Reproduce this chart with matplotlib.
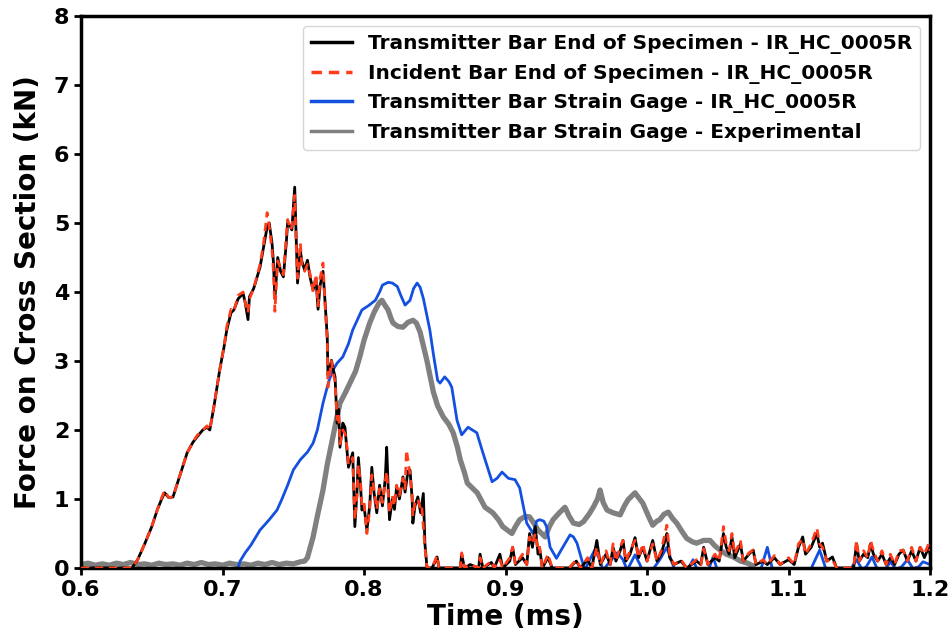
import numpy as np
import matplotlib
matplotlib.use("Agg")
import matplotlib.pyplot as plt

# Transmitter bar end of specimen (simulation) : (time ms, force kN)
trans_end = [
    (0.600, 0.0), (0.636, 0.0), (0.640, 0.12), (0.645, 0.35), (0.650, 0.6), (0.654, 0.85),
    (0.657, 1.0), (0.659, 1.09), (0.662, 1.02), (0.665, 1.03), (0.670, 1.35), (0.675, 1.67),
    (0.679, 1.82), (0.682, 1.9), (0.686, 2.0), (0.689, 2.04), (0.691, 2.0), (0.694, 2.35),
    (0.698, 2.87), (0.701, 3.2), (0.703, 3.45), (0.706, 3.7), (0.708, 3.74), (0.711, 3.9),
    (0.7145, 3.98), (0.716, 3.85), (0.718, 3.6), (0.719, 3.93), (0.722, 4.05), (0.7265, 4.36),
    (0.729, 4.65), (0.7315, 4.94), (0.733, 5.0), (0.735, 4.7), (0.736, 4.42), (0.737, 3.9),
    (0.738, 4.2), (0.739, 4.5), (0.741, 4.3), (0.743, 4.22), (0.745, 4.7), (0.746, 5.0),
    (0.748, 4.95), (0.749, 4.9), (0.751, 5.52), (0.752, 4.8), (0.753, 4.13), (0.755, 4.6),
    (0.756, 4.45), (0.758, 4.32), (0.760, 4.46), (0.762, 4.2), (0.764, 4.03), (0.766, 4.2),
    (0.7675, 3.75), (0.769, 4.1), (0.771, 4.3), (0.7725, 3.84), (0.774, 3.35), (0.7745, 2.8),
    (0.776, 2.9), (0.777, 3.01), (0.778, 2.9), (0.7795, 2.77), (0.781, 2.1), (0.782, 2.3),
    (0.783, 1.75), (0.785, 2.1), (0.7865, 2.04), (0.788, 1.7), (0.789, 1.46), (0.791, 1.6),
    (0.792, 1.67), (0.7935, 0.6), (0.795, 1.1), (0.796, 1.6), (0.7975, 1.2), (0.7985, 0.84),
    (0.800, 0.9), (0.802, 0.55), (0.804, 0.9), (0.8055, 1.46), (0.807, 1.1), (0.809, 0.8),
    (0.811, 1.2), (0.813, 0.9), (0.815, 1.3), (0.816, 1.75), (0.817, 1.2), (0.818, 0.7),
    (0.820, 1.0), (0.8215, 0.85), (0.823, 1.17), (0.825, 1.0), (0.8275, 1.32), (0.829, 1.1),
    (0.831, 1.4), (0.8325, 1.42), (0.834, 1.0), (0.8345, 0.65), (0.836, 0.9), (0.838, 1.03),
    (0.840, 0.8), (0.8419, 1.08), (0.843, 0.36), (0.8445, 0.0),
    (0.848, 0.0), (0.850, 0.08), (0.8516, 0.16), (0.853, 0.0), (0.868, 0.0), (0.869, 0.2),
    (0.871, 0.0), (0.875, 0.05), (0.881, 0.0), (0.882, 0.2), (0.884, 0.0), (0.890, 0.08),
    (0.892, 0.0), (0.896, 0.2), (0.898, 0.0), (0.903, 0.1), (0.905, 0.3), (0.907, 0.05),
    (0.912, 0.15), (0.915, 0.05), (0.917, 0.5), (0.919, 0.3), (0.921, 0.6), (0.923, 0.2),
    (0.924, 0.3), (0.926, 0.0), (0.930, 0.15), (0.933, 0.0), (0.945, 0.0), (0.950, 0.1),
    (0.953, 0.0), (0.958, 0.12), (0.961, 0.0), (0.9645, 0.4), (0.967, 0.05), (0.971, 0.2),
    (0.974, 0.05), (0.976, 0.3), (0.978, 0.1), (0.981, 0.25), (0.983, 0.4), (0.985, 0.1),
    (0.988, 0.2), (0.9915, 0.44), (0.994, 0.15), (0.997, 0.3), (1.000, 0.1), (1.004, 0.4),
    (1.007, 0.1), (1.010, 0.2), (1.014, 0.5), (1.016, 0.15), (1.019, 0.05), (1.024, 0.1),
    (1.028, 0.0), (1.035, 0.1), (1.038, 0.05), (1.040, 0.3), (1.043, 0.05), (1.048, 0.15),
    (1.051, 0.1), (1.054, 0.5), (1.056, 0.3), (1.058, 0.2), (1.060, 0.45), (1.062, 0.15),
    (1.066, 0.35), (1.068, 0.1), (1.072, 0.2), (1.075, 0.26), (1.077, 0.05), (1.082, 0.1),
    (1.085, 0.05), (1.090, 0.15), (1.094, 0.05), (1.100, 0.12), (1.104, 0.05), (1.107, 0.3),
    (1.110, 0.45), (1.112, 0.2), (1.116, 0.3), (1.120, 0.5), (1.122, 0.3), (1.124, 0.36),
    (1.127, 0.1), (1.131, 0.16), (1.134, 0.0), (1.146, 0.0), (1.148, 0.35), (1.150, 0.1),
    (1.153, 0.2), (1.156, 0.15), (1.158, 0.35), (1.160, 0.2), (1.163, 0.1), (1.166, 0.2),
    (1.169, 0.05), (1.172, 0.15), (1.175, 0.05), (1.178, 0.2), (1.181, 0.26), (1.184, 0.1),
    (1.187, 0.25), (1.190, 0.1), (1.193, 0.3), (1.196, 0.15), (1.199, 0.3), (1.200, 0.2),
]

# Incident bar end of specimen (simulation)
inc_end = [
    (0.600, 0.0), (0.636, 0.0), (0.640, 0.12), (0.645, 0.35), (0.650, 0.6), (0.654, 0.85),
    (0.657, 1.02), (0.659, 1.12), (0.662, 1.02), (0.665, 1.03), (0.670, 1.35), (0.675, 1.67),
    (0.679, 1.82), (0.682, 1.92), (0.686, 2.0), (0.689, 2.06), (0.691, 2.0), (0.694, 2.35),
    (0.698, 2.87), (0.701, 3.2), (0.703, 3.5), (0.706, 3.75), (0.708, 3.72), (0.711, 3.95),
    (0.7145, 4.0), (0.716, 3.85), (0.718, 3.7), (0.719, 3.9), (0.722, 4.05), (0.7265, 4.4),
    (0.729, 4.7), (0.7315, 5.15), (0.733, 4.95), (0.735, 4.6), (0.736, 4.3), (0.737, 3.72),
    (0.738, 4.1), (0.739, 4.45), (0.741, 4.35), (0.743, 4.25), (0.745, 4.8), (0.746, 5.05),
    (0.748, 4.9), (0.749, 4.95), (0.751, 5.4), (0.752, 4.7), (0.753, 4.2), (0.755, 4.71),
    (0.756, 4.4), (0.758, 4.3), (0.760, 4.4), (0.762, 4.25), (0.764, 4.0), (0.766, 4.25),
    (0.7675, 3.8), (0.769, 4.2), (0.771, 4.42), (0.7725, 3.8), (0.774, 3.3), (0.7745, 2.62),
    (0.776, 2.85), (0.777, 3.0), (0.778, 2.85), (0.7795, 2.7), (0.781, 2.15), (0.782, 2.25),
    (0.783, 1.8), (0.785, 2.0), (0.7865, 1.95), (0.788, 1.75), (0.789, 1.5), (0.791, 1.55),
    (0.792, 1.6), (0.7935, 0.7), (0.795, 1.05), (0.796, 1.5), (0.7975, 1.25), (0.7985, 0.9),
    (0.800, 0.95), (0.802, 0.5), (0.804, 0.85), (0.8055, 1.35), (0.807, 1.15), (0.809, 0.85),
    (0.811, 1.15), (0.813, 0.95), (0.815, 1.25), (0.816, 1.4), (0.817, 1.1), (0.818, 0.8),
    (0.820, 1.05), (0.8215, 0.9), (0.823, 1.2), (0.825, 1.05), (0.8275, 1.3), (0.829, 1.15),
    (0.830, 1.71), (0.8325, 1.35), (0.834, 1.05), (0.8345, 0.75), (0.836, 0.95), (0.838, 1.0),
    (0.840, 0.85), (0.8408, 0.89), (0.843, 0.3), (0.8445, 0.0),
    (0.848, 0.0), (0.850, 0.1), (0.8516, 0.18), (0.853, 0.0), (0.868, 0.0), (0.869, 0.22),
    (0.871, 0.0), (0.875, 0.05), (0.881, 0.0), (0.882, 0.15), (0.884, 0.0), (0.890, 0.1),
    (0.892, 0.0), (0.896, 0.12), (0.898, 0.0), (0.903, 0.15), (0.905, 0.3), (0.907, 0.05),
    (0.912, 0.2), (0.915, 0.05), (0.917, 0.45), (0.919, 0.35), (0.921, 0.5), (0.923, 0.25),
    (0.924, 0.3), (0.926, 0.0), (0.930, 0.2), (0.933, 0.0), (0.945, 0.0), (0.950, 0.12),
    (0.953, 0.0), (0.958, 0.15), (0.961, 0.0), (0.9645, 0.3), (0.967, 0.05), (0.971, 0.25),
    (0.974, 0.05), (0.976, 0.35), (0.978, 0.1), (0.981, 0.3), (0.983, 0.4), (0.985, 0.1),
    (0.988, 0.25), (0.9915, 0.4), (0.994, 0.15), (0.997, 0.35), (1.000, 0.1), (1.004, 0.35),
    (1.007, 0.1), (1.010, 0.25), (1.014, 0.62), (1.016, 0.2), (1.019, 0.05), (1.024, 0.12),
    (1.028, 0.0), (1.035, 0.12), (1.038, 0.05), (1.040, 0.28), (1.043, 0.05), (1.048, 0.2),
    (1.051, 0.1), (1.054, 0.6), (1.056, 0.35), (1.058, 0.25), (1.060, 0.5), (1.062, 0.2),
    (1.066, 0.4), (1.068, 0.1), (1.072, 0.22), (1.075, 0.26), (1.077, 0.05), (1.082, 0.12),
    (1.085, 0.05), (1.090, 0.18), (1.094, 0.05), (1.100, 0.15), (1.104, 0.05), (1.107, 0.35),
    (1.110, 0.42), (1.112, 0.2), (1.116, 0.35), (1.120, 0.58), (1.122, 0.35), (1.124, 0.3),
    (1.127, 0.1), (1.131, 0.12), (1.134, 0.0), (1.146, 0.0), (1.148, 0.4), (1.150, 0.1),
    (1.153, 0.25), (1.156, 0.15), (1.158, 0.4), (1.160, 0.25), (1.163, 0.1), (1.166, 0.25),
    (1.169, 0.05), (1.172, 0.2), (1.175, 0.05), (1.178, 0.25), (1.181, 0.26), (1.184, 0.1),
    (1.187, 0.3), (1.190, 0.1), (1.193, 0.3), (1.196, 0.2), (1.199, 0.35), (1.200, 0.25),
]

# Transmitter bar strain gage (simulation)
trans_gage_sim = [
    (0.600, -0.05), (0.710, -0.05), (0.7124, 0.1), (0.716, 0.22), (0.720, 0.33), (0.7265, 0.55),
    (0.733, 0.7), (0.7385, 0.84), (0.742, 1.0), (0.746, 1.2), (0.750, 1.42), (0.755, 1.57),
    (0.760, 1.68), (0.764, 1.81), (0.767, 2.0), (0.771, 2.39), (0.775, 2.7), (0.778, 2.87),
    (0.781, 2.97), (0.785, 3.06), (0.789, 3.25), (0.792, 3.45), (0.7985, 3.74), (0.803, 3.8),
    (0.808, 3.88), (0.811, 4.0), (0.813, 4.10), (0.817, 4.14), (0.820, 4.13), (0.8235, 4.08),
    (0.826, 3.95), (0.829, 3.81), (0.8325, 3.88), (0.835, 4.05), (0.8375, 4.13), (0.8396, 4.07),
    (0.842, 3.9), (0.8465, 3.45), (0.849, 3.1), (0.852, 2.72), (0.8537, 2.68), (0.857, 2.77),
    (0.860, 2.7), (0.862, 2.62), (0.8657, 2.14), (0.869, 1.93), (0.8735, 2.04), (0.8797, 1.96),
    (0.884, 1.67), (0.8905, 1.25), (0.894, 1.3), (0.8975, 1.39), (0.902, 1.3), (0.9067, 1.28),
    (0.910, 1.16), (0.913, 0.85), (0.915, 0.65), (0.9195, 0.5), (0.922, 0.68), (0.924, 0.7),
    (0.927, 0.68), (0.929, 0.6), (0.9315, 0.3), (0.936, 0.14), (0.939, 0.25), (0.9456, 0.48),
    (0.948, 0.45), (0.9505, 0.36), (0.953, 0.18), (0.956, -0.03), (0.959, 0.1), (0.963, 0.26),
    (0.966, 0.15), (0.969, -0.03), (0.974, 0.1), (0.979, 0.22), (0.983, 0.12), (0.986, -0.03),
    (0.9915, 0.19), (0.995, 0.05), (0.997, -0.05), (1.003, -0.05), (1.009, 0.12), (1.014, 0.3),
    (1.017, 0.12), (1.020, -0.05), (1.028, -0.05), (1.0325, 0.12), (1.036, -0.05), (1.043, -0.05),
    (1.0467, 0.16), (1.050, -0.05), (1.080, -0.05), (1.085, 0.3), (1.089, -0.05), (1.115, -0.05),
    (1.122, 0.26), (1.127, -0.05), (1.143, -0.05), (1.148, 0.12), (1.152, -0.02), (1.155, 0.02),
    (1.159, 0.16), (1.163, -0.03), (1.168, -0.03), (1.172, 0.09), (1.176, -0.02), (1.180, 0.02),
    (1.184, 0.12), (1.188, -0.01), (1.192, 0.02), (1.195, 0.09), (1.200, 0.05),
]

# Transmitter bar strain gage (experimental)
trans_gage_exp = [
    (0.600, 0.05), (0.605, 0.07), (0.610, 0.04), (0.615, 0.06), (0.620, 0.04), (0.625, 0.07),
    (0.630, 0.05), (0.635, 0.08), (0.640, 0.05), (0.645, 0.06), (0.650, 0.04), (0.655, 0.07),
    (0.660, 0.05), (0.665, 0.06), (0.670, 0.04), (0.675, 0.07), (0.680, 0.05), (0.685, 0.08),
    (0.690, 0.05), (0.695, 0.06), (0.700, 0.04), (0.705, 0.07), (0.710, 0.05), (0.715, 0.06),
    (0.720, 0.04), (0.725, 0.07), (0.730, 0.05), (0.735, 0.08), (0.740, 0.05), (0.745, 0.07),
    (0.750, 0.06), (0.755, 0.09), (0.758, 0.1), (0.760, 0.15), (0.762, 0.3), (0.764, 0.45),
    (0.767, 0.75), (0.771, 1.13), (0.774, 1.5), (0.778, 1.9), (0.781, 2.2), (0.783, 2.39),
    (0.787, 2.55), (0.790, 2.68), (0.794, 2.85), (0.797, 3.06), (0.800, 3.3), (0.804, 3.55),
    (0.807, 3.7), (0.809, 3.78), (0.811, 3.85), (0.8127, 3.88), (0.815, 3.8), (0.817, 3.74),
    (0.819, 3.62), (0.8205, 3.55), (0.824, 3.5), (0.8275, 3.49), (0.831, 3.56), (0.8346, 3.59),
    (0.837, 3.55), (0.8396, 3.42), (0.8445, 3.0), (0.849, 2.55), (0.852, 2.35), (0.856, 2.19),
    (0.860, 2.08), (0.863, 1.96), (0.866, 1.75), (0.868, 1.57), (0.871, 1.38), (0.873, 1.23),
    (0.877, 1.15), (0.880, 1.09), (0.8855, 0.88), (0.891, 0.8), (0.895, 0.7), (0.898, 0.6),
    (0.9045, 0.5), (0.907, 0.6), (0.910, 0.7), (0.914, 0.75), (0.917, 0.74), (0.920, 0.65),
    (0.923, 0.55), (0.928, 0.45), (0.931, 0.6), (0.9336, 0.7), (0.938, 0.8), (0.942, 0.88),
    (0.945, 0.75), (0.948, 0.65), (0.952, 0.63), (0.955, 0.67), (0.959, 0.78), (0.962, 0.88),
    (0.965, 1.0), (0.9668, 1.13), (0.969, 0.95), (0.9717, 0.84), (0.976, 0.8), (0.981, 0.77),
    (0.984, 0.9), (0.9866, 0.99), (0.9915, 1.09), (0.994, 1.02), (0.997, 0.94), (1.001, 0.75),
    (1.004, 0.62), (1.007, 0.68), (1.009, 0.7), (1.012, 0.78), (1.015, 0.81), (1.018, 0.72),
    (1.021, 0.65), (1.025, 0.52), (1.028, 0.43), (1.032, 0.38), (1.035, 0.36), (1.040, 0.4),
    (1.0445, 0.4), (1.048, 0.32), (1.0516, 0.26), (1.056, 0.2), (1.061, 0.16), (1.066, 0.1),
    (1.071, 0.07), (1.075, 0.03),
]

labels = [
    "Transmitter Bar End of Specimen - IR_HC_0005R",
    "Incident Bar End of Specimen - IR_HC_0005R",
    "Transmitter Bar Strain Gage - IR_HC_0005R",
    "Transmitter Bar Strain Gage - Experimental",
]
x_ticks = [0.6, 0.7, 0.8, 0.9, 1.0, 1.1, 1.2]
y_ticks = [0, 1, 2, 3, 4, 5, 6, 7, 8]

plt.rcParams['font.family'] = ['DejaVu Sans']
plt.rcParams['font.weight'] = 'bold'

fig = plt.figure(figsize=(9.5, 6.4), dpi=100)
ax = fig.add_axes([0.0853, 0.1125, 0.8937, 0.8625])

def xy(d):
    a = np.array(d, dtype=float)
    return a[:, 0], a[:, 1]

t, f = xy(trans_end)
ax.plot(t, f, color='black', lw=2.0, label=labels[0], zorder=3)
t, f = xy(inc_end)
ax.plot(t, f, color='#ff3b1a', lw=2.0, ls=(0, (3, 2)), label=labels[1], zorder=4)
t, f = xy(trans_gage_sim)
ax.plot(t, f, color='#1450e0', lw=2.0, label=labels[2], zorder=2)
t, f = xy(trans_gage_exp)
ax.plot(t, f, color='#808080', lw=3.8, label=labels[3], zorder=1)

ax.set_xlim(0.6, 1.2)
ax.set_ylim(0, 8)
ax.set_xticks(x_ticks)
ax.set_xticklabels([f"{v:.1f}" for v in x_ticks])
ax.set_yticks(y_ticks)
ax.tick_params(axis='both', labelsize=16, width=2, length=5)
for lab in ax.get_xticklabels() + ax.get_yticklabels():
    lab.set_fontweight('bold')
for s in ax.spines.values():
    s.set_linewidth(2.5)

ax.set_xlabel("Time (ms)", fontsize=20, fontweight='bold', labelpad=2)
ax.set_ylabel("Force on Cross Section (kN)", fontsize=20, fontweight='bold', labelpad=8)

leg = ax.legend(loc='upper right', fontsize=14.5, frameon=True, fancybox=True,
                handlelength=2.0, labelspacing=0.48, borderaxespad=0.5)
for txt in leg.get_texts():
    txt.set_fontweight('bold')
for h in leg.get_lines():
    h.set_linewidth(2.5)
leg.get_frame().set_edgecolor('#cccccc')

fig.savefig("out.png", dpi=100)
